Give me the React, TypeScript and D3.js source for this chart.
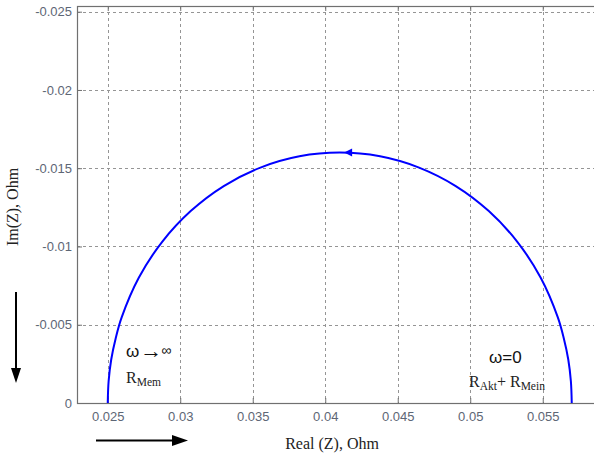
import React, { useEffect, useRef } from "react";
import * as d3 from "d3";

// Nyquist plot (real part, imaginary part in Ohm)
const realZ = [
  0.057, 0.05694, 0.05676, 0.05645, 0.05604, 0.05486, 0.05326, 0.05128, 0.049,
  0.04647, 0.04378, 0.041, 0.03822, 0.03553, 0.033, 0.03072, 0.02874, 0.02714,
  0.02596, 0.02555, 0.02524, 0.02506, 0.025,
];
const imagZ = [
  0, -0.00139, -0.00278, -0.00414, -0.00547, -0.008, -0.01028, -0.01226, -0.01386,
  -0.01504, -0.01576, -0.016, -0.01576, -0.01504, -0.01386, -0.01226, -0.01028, -0.008,
  -0.00547, -0.00414, -0.00278, -0.00139, 0,
];
const arrowAt = { re: 0.0413, im: -0.016 };

const xTicks = [0.025, 0.03, 0.035, 0.04, 0.045, 0.05, 0.055];
const yTicks = [-0.025, -0.02, -0.015, -0.01, -0.005, 0];
const xDomain = [0.02288, 0.0587];
const yDomain = [0, -0.025364];

const W = 594;
const H = 459;

export default function App() {
  const ref = useRef<SVGSVGElement>(null);

  useEffect(() => {
    const svg = d3.select(ref.current);
    svg.selectAll("*").remove();

    const left = 77, right = 596.4, top = 6, bottom = 403;
    const x = d3.scaleLinear().domain(xDomain).range([left, right]);
    const y = d3.scaleLinear().domain(yDomain).range([bottom, top]);

    svg.append("rect").attr("width", W).attr("height", H).attr("fill", "#fff");

    // grid
    const grid = svg.append("g")
      .attr("stroke", "#959595")
      .attr("stroke-width", 1)
      .attr("stroke-dasharray", "3,3");
    grid.selectAll(".gx").data(xTicks).join("line")
      .attr("x1", d => Math.round(x(d)) + 0.5).attr("x2", d => Math.round(x(d)) + 0.5)
      .attr("y1", top).attr("y2", bottom);
    grid.selectAll(".gy").data(yTicks.filter(d => d !== 0)).join("line")
      .attr("y1", d => Math.round(y(d)) + 0.5).attr("y2", d => Math.round(y(d)) + 0.5)
      .attr("x1", left).attr("x2", right);

    const tickColor = "#5d6675";
    const styleAxis = (g: any) => {
      g.select(".domain").remove();
      g.selectAll(".tick line").attr("stroke", "#707070");
      g.selectAll(".tick text")
        .attr("fill", tickColor)
        .style("font-family", "'Liberation Sans', Arial, sans-serif")
        .style("font-size", "13px");
    };

    svg.append("g")
      .attr("transform", `translate(0, ${bottom})`)
      .call(d3.axisBottom(x).tickValues(xTicks).tickSize(-5).tickPadding(9).tickFormat(d => String(d)))
      .call(styleAxis);
    svg.append("g")
      .attr("transform", `translate(0, ${top})`)
      .call(d3.axisTop(x).tickValues(xTicks).tickSize(-5).tickFormat(() => ""))
      .call(styleAxis);
    svg.append("g")
      .attr("transform", `translate(${left}, 0)`)
      .call(d3.axisLeft(y).tickValues(yTicks).tickSize(-5).tickPadding(5).tickFormat(d => String(d)))
      .call(styleAxis);

    // frame
    svg.append("rect")
      .attr("x", left + 0.5).attr("y", top + 0.5)
      .attr("width", right - left).attr("height", bottom - top)
      .attr("fill", "none").attr("stroke", "#707070").attr("stroke-width", 1.2);

    // curve
    const pts = realZ.map((r, i) => [r, imagZ[i]] as [number, number]);
    const line = d3.line<[number, number]>()
      .x(d => x(d[0]))
      .y(d => y(d[1]))
      .curve(d3.curveCatmullRom);
    svg.append("path")
      .attr("d", line(pts))
      .attr("fill", "none")
      .attr("stroke", "#0000ff")
      .attr("stroke-width", 2);

    const ax = x(arrowAt.re), ay = y(arrowAt.im);
    svg.append("path")
      .attr("d", `M${ax},${ay} L${ax + 8},${ay - 4} L${ax + 8},${ay + 4} Z`)
      .attr("fill", "#0000ff");

    // annotations
    const serif = "'Liberation Serif', 'Times New Roman', serif";
    const sans = "'Liberation Sans', Arial, sans-serif";

    const t1 = svg.append("text").attr("x", 126).attr("y", 357)
      .style("font-family", sans).style("font-size", "17px").attr("fill", "#111");
    t1.append("tspan").text("ω");
    t1.append("tspan").attr("font-size", 22).attr("dy", 1).attr("dx", 1).text("→");
    t1.append("tspan").attr("font-size", 14).attr("dy", -3).attr("dx", -1).text("∞");

    const t2 = svg.append("text").attr("x", 126).attr("y", 383)
      .style("font-family", serif).style("font-size", "16px").attr("fill", "#222");
    t2.append("tspan").text("R");
    t2.append("tspan").attr("font-size", 11.5).attr("dy", 3).text("Mem");

    svg.append("text").attr("x", 489).attr("y", 363)
      .style("font-family", sans).style("font-size", "17px").attr("fill", "#111")
      .text("ω=0");

    const t3 = svg.append("text").attr("x", 469).attr("y", 387)
      .style("font-family", serif).style("font-size", "16px").attr("fill", "#222");
    t3.append("tspan").text("R");
    t3.append("tspan").attr("font-size", 11.5).attr("dy", 3).text("Akt");
    t3.append("tspan").attr("dy", -3).text("+ R");
    t3.append("tspan").attr("font-size", 11.5).attr("dy", 3).text("Mein");

    // axis labels
    svg.append("text")
      .attr("x", 332).attr("y", 449)
      .attr("text-anchor", "middle")
      .style("font-family", serif).style("font-size", "16px").attr("fill", "#222")
      .text("Real (Z), Ohm");
    svg.append("text")
      .attr("transform", "translate(18, 207) rotate(-90)")
      .attr("text-anchor", "middle")
      .style("font-family", serif).style("font-size", "16px").attr("fill", "#222")
      .text("Im(Z), Ohm");

    // direction arrows
    svg.append("line").attr("x1", 16).attr("x2", 16).attr("y1", 292).attr("y2", 370)
      .attr("stroke", "#000").attr("stroke-width", 2);
    svg.append("path").attr("d", "M11,368 L21,368 L16,383 Z").attr("fill", "#000");
    svg.append("line").attr("x1", 96).attr("x2", 174).attr("y1", 440.5).attr("y2", 440.5)
      .attr("stroke", "#000").attr("stroke-width", 2);
    svg.append("path").attr("d", "M172,435 L172,446 L188,440.5 Z").attr("fill", "#000");
  }, []);

  return (
    <svg
      ref={ref}
      width={W}
      height={H}
      style={{ position: "absolute", left: 0, top: 0, display: "block" }}
    />
  );
}
